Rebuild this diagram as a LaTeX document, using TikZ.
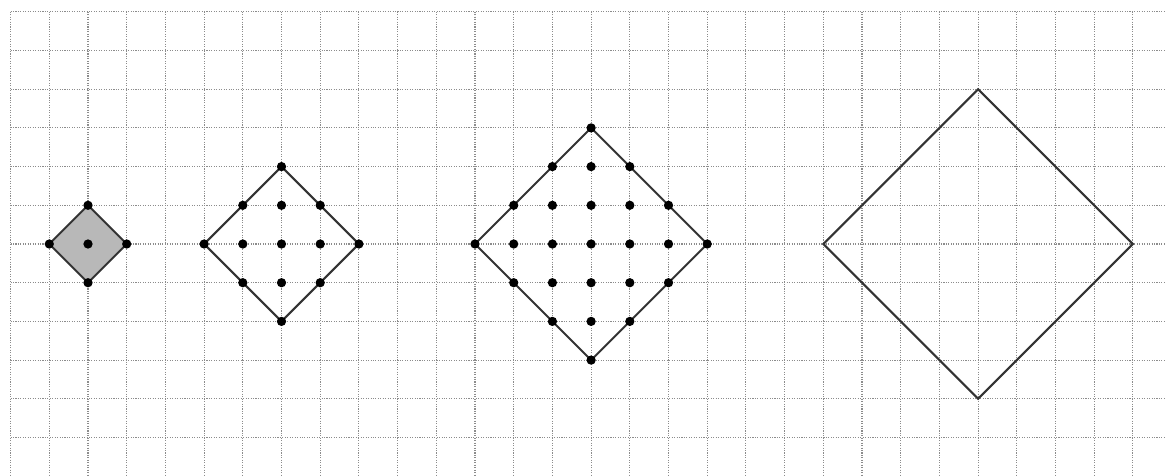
\documentclass[tikz,border=0pt]{standalone}
\usepackage{xcolor}
\usetikzlibrary{calc,positioning}
\definecolor{gridgray}{rgb}{0.55,0.55,0.55}
\definecolor{linegray}{rgb}{0.2,0.2,0.2}
\definecolor{fillgray}{rgb}{0.72,0.72,0.72}
\tikzset{
  gridline/.style={gridgray, line width=0.8pt, densely dotted},
  rhombus/.style={linegray, line width=1.5pt, line join=miter},
  dot/.style={fill=black}
}
\begin{document}
\begin{tikzpicture}
                \useasboundingbox (-2.274,-5.969) rectangle (27.829,6.305);
                \fill[white] (-2.274,-5.969) rectangle (27.829,6.305);
                % grid
                \foreach \x in {-2,...,27}
                    \draw[gridline] (\x,6) -- (\x,-5.969);
                \foreach \y in {-5,...,6}
                    \draw[gridline] (-2,\y) -- (27.829,\y);
                \coordinate (c1) at (0, 0);
                \coordinate (c2) at (5, 0);
                \coordinate (c3) at (13, 0);
                \coordinate (c4) at (23, 0);
                % first figure
                \filldraw[rhombus, fill=fillgray] ($(c1)+(-1,0)$) -- ($(c1)+(0,1)$) -- ($(c1)+(1,0)$) -- ($(c1)+(0,-1)$) -- cycle;
                \foreach \px/\py in {-1/0,0/1,1/0,0/-1,0/0}
                    \fill[dot] ($(c1)+(\px,\py)$) circle (0.12);
                % second figure
                \draw[rhombus] ($(c2)+(-2,0)$) -- ($(c2)+(0,2)$) -- ($(c2)+(2,0)$) -- ($(c2)+(0,-2)$) -- cycle;
                \foreach \i in {-2,...,2}
                    \foreach \j in {-2,...,2}{
                        \pgfmathtruncatemacro{\s}{abs(\i)+abs(\j)}
                        \ifnum\s<3 \fill[dot] ($(c2)+(\i,\j)$) circle (0.12); \fi
                    }
                % third figure
                \draw[rhombus] ($(c3)+(-3,0)$) -- ($(c3)+(0,3)$) -- ($(c3)+(3,0)$) -- ($(c3)+(0,-3)$) -- cycle;
                \foreach \i in {-3,...,3}
                    \foreach \j in {-3,...,3}{
                        \pgfmathtruncatemacro{\s}{abs(\i)+abs(\j)}
                        \ifnum\s<4 \fill[dot] ($(c3)+(\i,\j)$) circle (0.12); \fi
                    }
                % fourth figure
                \draw[rhombus] ($(c4)+(-4,0)$) -- ($(c4)+(0,4)$) -- ($(c4)+(4,0)$) -- ($(c4)+(0,-4)$) -- cycle;
\end{tikzpicture}
\end{document}
